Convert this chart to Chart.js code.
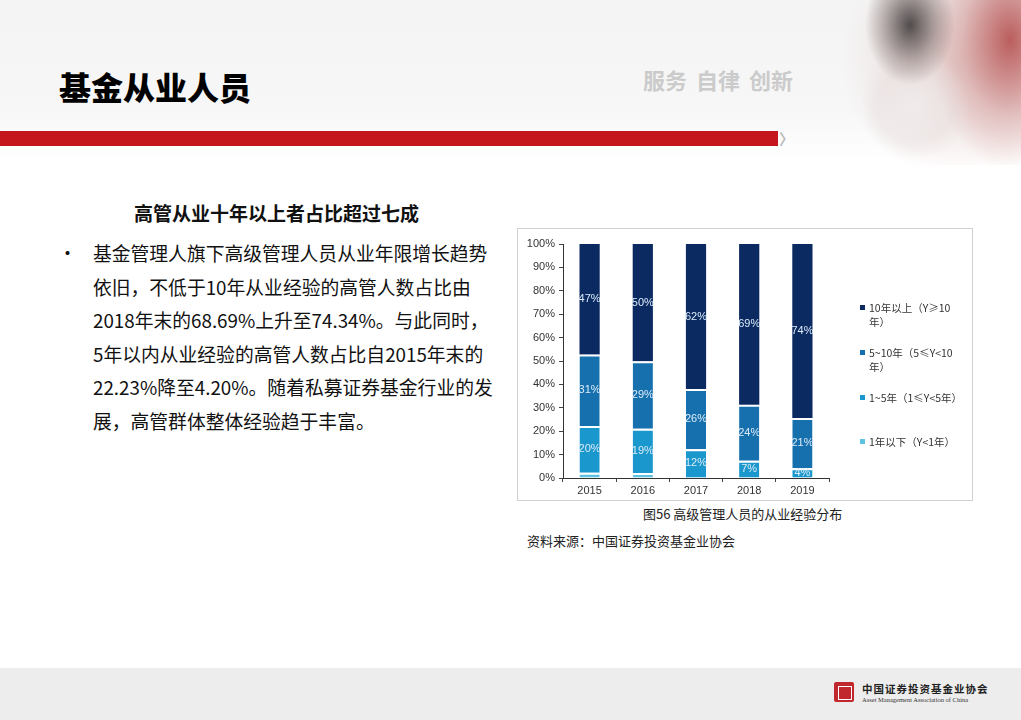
<!DOCTYPE html>
<html><head><meta charset="utf-8">
<script src="https://cdn.jsdelivr.net/npm/chart.js@4.4.1/dist/chart.umd.min.js"></script>
<style>
html,body{margin:0;padding:0;}
body{width:1021px;height:720px;position:relative;overflow:hidden;background:#fff;font-family:"Noto Sans CJK SC","Noto Sans",sans-serif;}
#hdr{position:absolute;left:0;top:0;width:1021px;height:160px;background:linear-gradient(180deg,#f4f4f4 0%,#f7f7f7 70%,#fff 100%);}
#photo{position:absolute;left:820px;top:0;width:201px;height:165px;
 background:
 radial-gradient(ellipse 45px 60px at 90px 25px,rgba(30,25,25,0.75),rgba(60,40,40,0.3) 60%,rgba(255,255,255,0) 100%),
 radial-gradient(ellipse 55px 55px at 95px 105px,rgba(240,235,235,0.9),rgba(230,220,220,0.4) 70%,rgba(255,255,255,0) 100%),
 radial-gradient(ellipse 80px 130px at 190px 40px,rgba(170,50,50,0.75),rgba(200,120,120,0.35) 60%,rgba(255,255,255,0) 100%),
 radial-gradient(ellipse 120px 120px at 140px 60px,rgba(220,190,185,0.6),rgba(255,255,255,0) 100%);}
#title{position:absolute;left:59px;top:66px;font-size:32px;font-weight:900;color:#000;letter-spacing:0px;line-height:40px;}
#motto{position:absolute;left:643px;top:64px;font-size:22px;font-weight:700;color:#cbcbcb;line-height:30px;word-spacing:4px;}
#redbar{position:absolute;left:0;top:131px;width:778px;height:15px;background:#c5161d;}
#chev{position:absolute;left:779px;top:131px;font-size:15px;line-height:15px;color:#bbb;font-weight:700;}
#sub{position:absolute;left:134px;top:200px;font-size:19px;font-weight:700;color:#111;line-height:26px;}
#bullet{position:absolute;left:58px;top:238px;font-size:19px;color:#111;line-height:30px;}
#para{position:absolute;left:93px;top:236px;font-size:18.8px;color:#111;line-height:33.6px;white-space:nowrap;}
#box{position:absolute;left:517px;top:228px;width:454px;height:271px;border:1px solid #d0d0d0;background:#fff;}
#cv{position:absolute;left:0;top:0;}
.lg{position:absolute;left:342px;width:96px;font-family:"Noto Sans CJK SC",sans-serif;font-size:10.5px;line-height:14px;color:#333;padding-left:9px;}
.lg i{position:absolute;left:0;top:4px;width:5px;height:5px;}
#cap{position:absolute;left:643px;top:505px;font-size:13px;color:#222;line-height:18px;}
#src{position:absolute;left:527px;top:532px;font-size:13px;color:#222;line-height:18px;}
#foot{position:absolute;left:0;top:668px;width:1021px;height:52px;background:#ededed;}
#logo{position:absolute;left:834px;top:682px;width:20px;height:20px;background:#c0282d;border-radius:2px;}
#logo:after{content:"";position:absolute;left:4px;top:4px;width:12px;height:12px;border:1px solid #fff;}
#ftxt{position:absolute;left:862px;top:683px;font-size:10.5px;font-weight:700;color:#222;line-height:12px;letter-spacing:1px;}
#fen{position:absolute;left:862px;top:696px;font-family:"Liberation Serif",serif;font-size:6.5px;color:#333;line-height:8px;}
</style></head>
<body>
<div id="hdr"></div>
<div id="photo"></div>
<div id="title">基金从业人员</div>
<div id="motto">服务 自律 创新</div>
<div id="redbar"></div>
<div id="chev">〉</div>
<div id="sub">高管从业十年以上者占比超过七成</div>
<div id="bullet">•</div>
<div id="para">基金管理人旗下高级管理人员从业年限增长趋势<br>依旧，不低于10年从业经验的高管人数占比由<br>2018年末的68.69%上升至74.34%。与此同时，<br>5年以内从业经验的高管人数占比自2015年末的<br>22.23%降至4.20%。随着私募证券基金行业的发<br>展，高管群体整体经验趋于丰富。</div>
<div id="box"><canvas id="cv" width="454" height="271"></canvas><div id="legend"></div></div>
<div id="cap">图56 高级管理人员的从业经验分布</div>
<div id="src">资料来源：中国证券投资基金业协会</div>
<div id="foot"></div>
<div id="logo"></div>
<div id="ftxt">中国证券投资基金业协会</div>
<div id="fen">Asset Management Association of China</div>
<script>
const years = ['2015','2016','2017','2018','2019'];
const seriesNames = ['1年以下（Y<1年）','1~5年（1≤Y<5年）','5~10年（5≤Y<10年）','10年以上（Y≥10年）'];
const under1 = [2.23, 2.1, 0, 0, 0];
const y1to5 = [20.0, 18.9, 12.3, 7.4, 4.2];
const y5to10 = [30.6, 28.9, 25.7, 23.91, 21.46];
const over10 = [47.17, 50.1, 62.0, 68.69, 74.34];
const yTicks = [0,10,20,30,40,50,60,70,80,90,100];
const seriesColors = ['#5ec3e2','#1a97cc','#1770ae','#0b2a62'];
const seriesData = [under1, y1to5, y5to10, over10];
const showLabel = [false, true, true, true];

const labelPlugin = {
  id:'segLabels',
  afterDatasetsDraw(chart){
    const ctx = chart.ctx;
    ctx.save();
    ctx.font = '11px "Liberation Sans", Arial, sans-serif';
    ctx.fillStyle = '#dcecf8';
    ctx.textAlign = 'center';
    ctx.textBaseline = 'middle';
    chart.data.datasets.forEach((ds, di) => {
      if (!showLabel[di]) return;
      const meta = chart.getDatasetMeta(di);
      meta.data.forEach((el, i) => {
        const v = ds.data[i];
        if (!v) return;
        const p = el.getProps(['x','y','base'], true);
        ctx.fillText(Math.round(v) + '%', p.x, (p.y + p.base) / 2);
      });
    });
    ctx.restore();
  }
};

const lastSeries = seriesData.length - 1;
const chart = new Chart(document.getElementById('cv'), {
  type:'bar',
  data:{
    labels: years,
    datasets: seriesData.map((d, i) => ({
      label: seriesNames[i],
      data: d,
      backgroundColor: seriesColors[i],
      borderColor: '#ffffff',
      borderWidth: i === lastSeries ? 0 : {top: 2, right: 0, bottom: 0, left: 0},
      borderSkipped: false,
      barPercentage: 0.76,
      categoryPercentage: 0.5
    }))
  },
  options:{
    responsive:false,
    animation:false,
    devicePixelRatio: 1,
    layout:{padding:{top:15, right:143, left:0, bottom:0}},
    plugins:{legend:{display:false}, tooltip:{enabled:false}},
    scales:{
      x:{
        stacked:true,
        offset:true,
        grid:{display:true, drawOnChartArea:false, offset:true, tickLength:4, color:'#444', tickColor:'#444'},
        border:{display:true, color:'#333', width:1},
        ticks:{color:'#333', font:{family:'"Liberation Sans", Arial, sans-serif', size:11}, padding:2},
        afterFit(s){ s.height = 22; }
      },
      y:{
        stacked:true,
        min:0, max:100,
        afterBuildTicks(s){ s.ticks = yTicks.map(v => ({value:v})); },
        grid:{display:true, drawOnChartArea:false, tickLength:4, color:'#444', tickColor:'#444'},
        border:{display:true, color:'#333', width:1},
        ticks:{color:'#333', font:{family:'"Liberation Sans", Arial, sans-serif', size:11}, padding:4, callback:v => v + '%'},
        afterFit(s){ s.width = 45; }
      }
    }
  },
  plugins:[labelPlugin]
});

// HTML legend built from the chart's datasets (reverse order, as in reference)
const legendTops = [72, 117, 162, 206];
const lg = document.getElementById('legend');
const items = chart.options.plugins.legend.labels.generateLabels(chart).reverse();
items.forEach((it, k) => {
  const d = document.createElement('div');
  d.className = 'lg';
  d.style.top = legendTops[k] + 'px';
  const sq = document.createElement('i');
  sq.style.background = it.fillStyle;
  d.appendChild(sq);
  d.appendChild(document.createTextNode(it.text));
  lg.appendChild(d);
});
</script>
</body></html>
